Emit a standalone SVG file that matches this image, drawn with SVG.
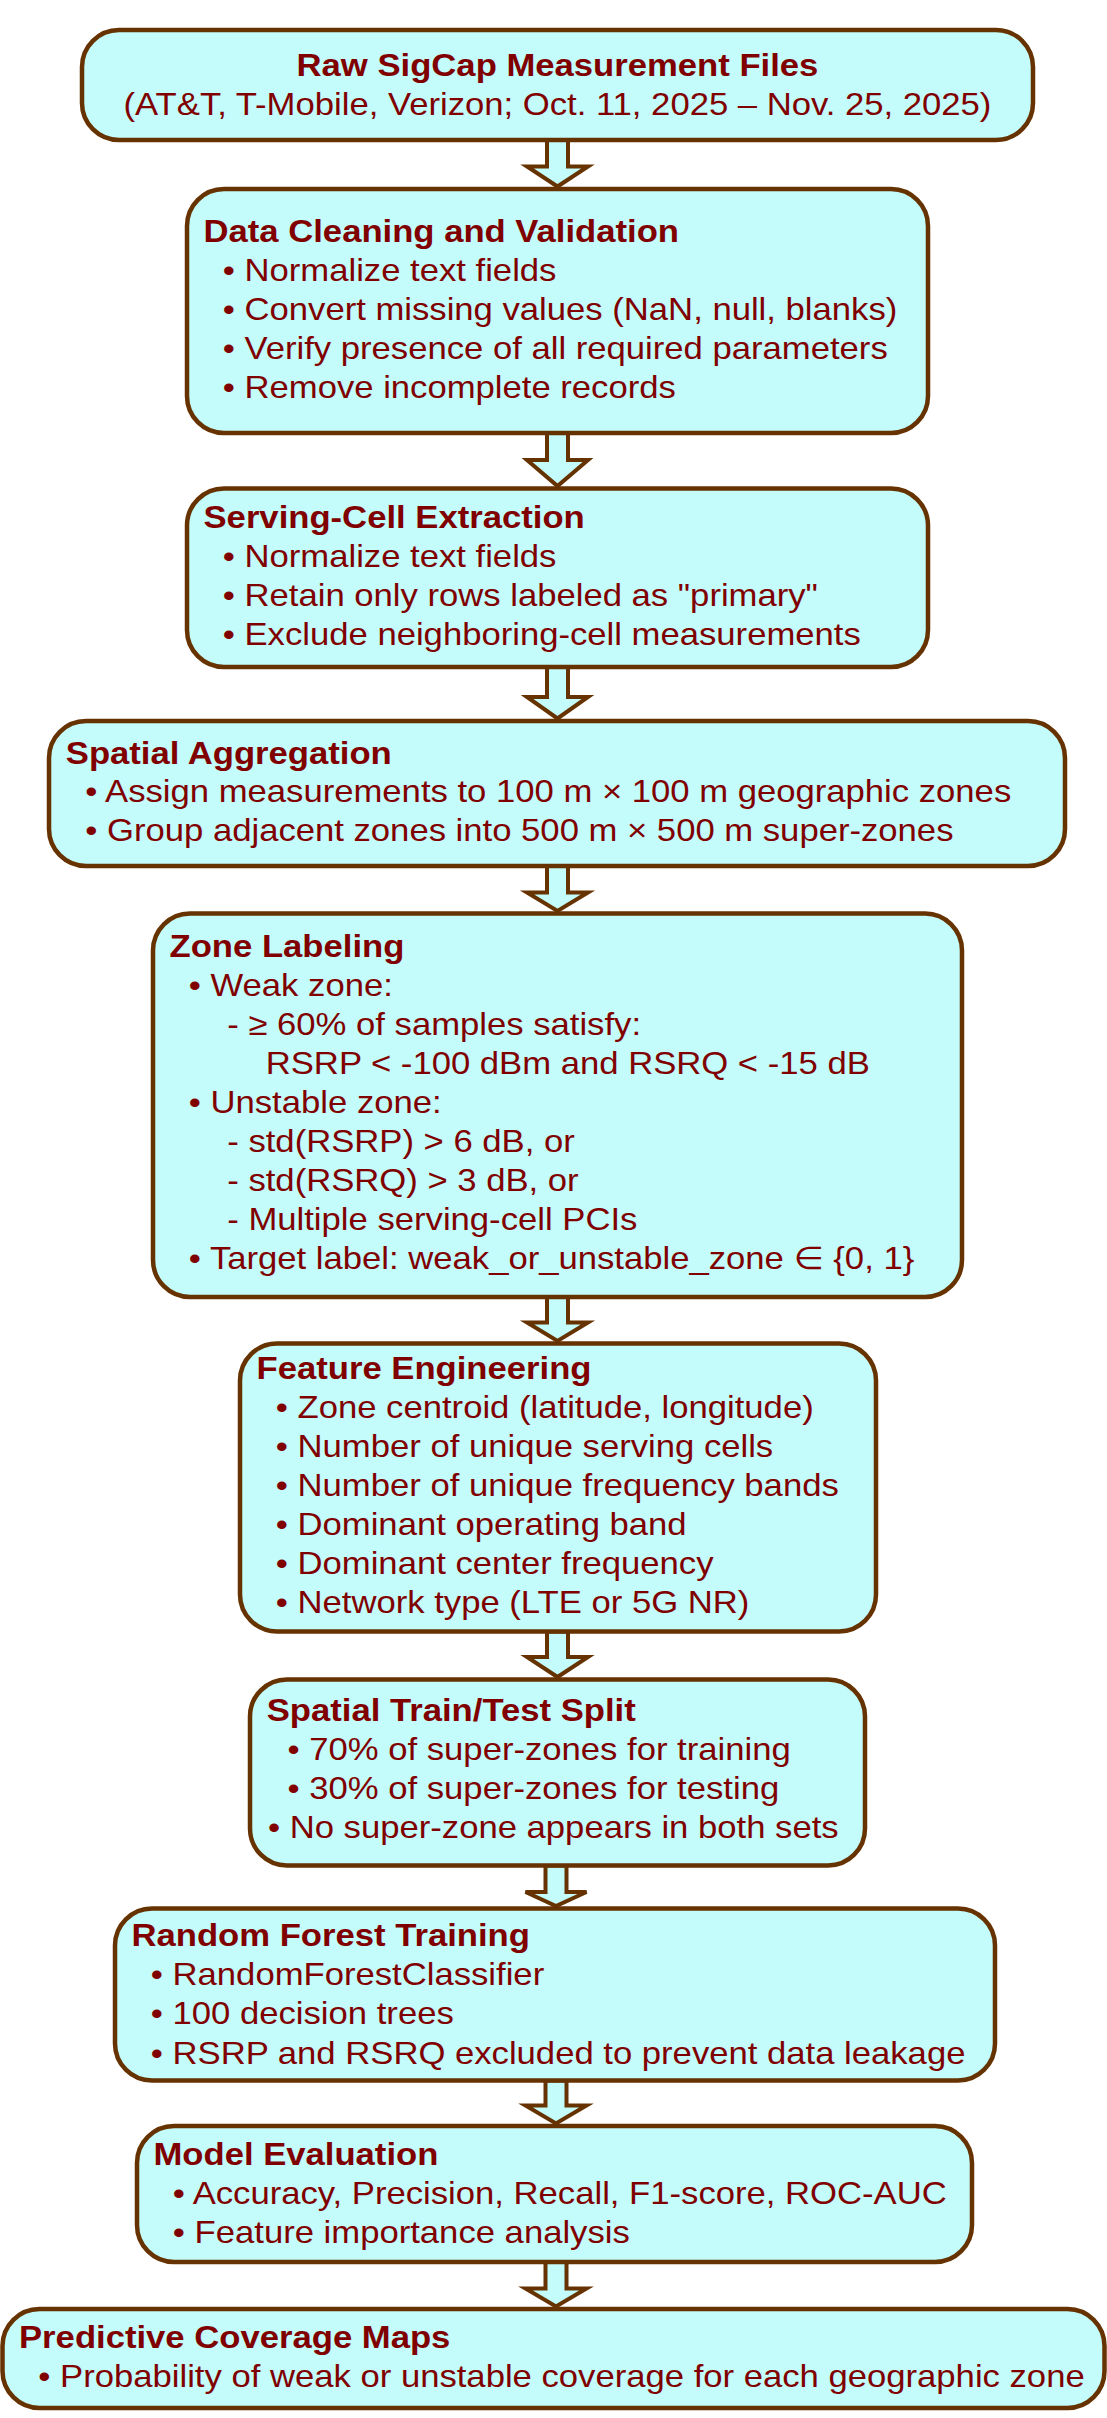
<svg xmlns="http://www.w3.org/2000/svg" width="1107" height="2418" viewBox="0 0 1107 2418">
<style>
.box{fill:#c3fcfa;stroke:#663300;stroke-width:4.5}
.arrow{fill:#c3fcfa;stroke:#663300;stroke-width:4;stroke-linejoin:miter}
text{font-family:"Liberation Sans",Arial,"DejaVu Sans",sans-serif;font-size:31.5px;fill:#800000}
.t{font-weight:bold}
.c{text-anchor:middle}
</style>
<rect width="1107" height="2418" fill="#ffffff"/>
<g id="connectors">
<path class="arrow" d="M547,140 V166.5 H527 L557.5,186.5 L588,166.5 H568 V140 Z"/>
<path class="arrow" d="M547,433 V460 H527 L557.5,486 L588,460 H568 V433 Z"/>
<path class="arrow" d="M547,667 V697 H527 L557.5,718.5 L588,697 H568 V667 Z"/>
<path class="arrow" d="M547,866 V892.5 H527 L557.5,911 L588,892.5 H568 V866 Z"/>
<path class="arrow" d="M547,1297 V1322.5 H527 L557.5,1341 L588,1322.5 H568 V1297 Z"/>
<path class="arrow" d="M547,1631.5 V1657 H527 L557.5,1677 L588,1657 H568 V1631.5 Z"/>
<path class="arrow" d="M545.5,1865.5 V1892 H525.5 L556,1906 L586.5,1892 H566.5 V1865.5 Z"/>
<path class="arrow" d="M545.5,2080.5 V2105.5 H525.5 L556,2123.5 L586.5,2105.5 H566.5 V2080.5 Z"/>
<path class="arrow" d="M545.5,2262 V2288.5 H525.5 L556,2306.5 L586.5,2288.5 H566.5 V2262 Z"/>
</g>
<g id="n1">
<rect class="box" x="82" y="30" width="951" height="110" rx="37"/>
<g transform="scale(1.1 1)">
<text class="t c" x="506.8" y="76">Raw SigCap Measurement Files</text>
<text class="c" x="506.8" y="115">(AT&amp;T, T-Mobile, Verizon; Oct. 11, 2025 – Nov. 25, 2025)</text>
</g>
</g>
<g id="n2">
<rect class="box" x="187" y="189" width="741" height="244" rx="37"/>
<g transform="scale(1.1 1)">
<text class="t" x="185" y="242.5">Data Cleaning and Validation</text>
<text x="202.5" y="281.5">• Normalize text fields</text>
<text x="202.5" y="320.5">• Convert missing values (NaN, null, blanks)</text>
<text x="202.5" y="359.5">• Verify presence of all required parameters</text>
<text x="202.5" y="398.5">• Remove incomplete records</text>
</g>
</g>
<g id="n3">
<rect class="box" x="187" y="488.5" width="741" height="178.5" rx="37"/>
<g transform="scale(1.1 1)">
<text class="t" x="185" y="528.3">Serving-Cell Extraction</text>
<text x="202.5" y="567.3">• Normalize text fields</text>
<text x="202.5" y="606.3">• Retain only rows labeled as "primary"</text>
<text x="202.5" y="645.3">• Exclude neighboring-cell measurements</text>
</g>
</g>
<g id="n4">
<rect class="box" x="49" y="721" width="1016" height="145" rx="37"/>
<g transform="scale(1.1 1)">
<text class="t" x="59.8" y="764">Spatial Aggregation</text>
<text x="77.5" y="802">• Assign measurements to 100 m × 100 m geographic zones</text>
<text x="77.5" y="841">• Group adjacent zones into 500 m × 500 m super-zones</text>
</g>
</g>
<g id="n5">
<rect class="box" x="153" y="913.5" width="809" height="383.5" rx="37"/>
<g transform="scale(1.1 1)">
<text class="t" x="154.1" y="957.3">Zone Labeling</text>
<text x="171.6" y="996">• Weak zone:</text>
<text x="206.6" y="1035">- ≥ 60% of samples satisfy:</text>
<text x="241.6" y="1074">RSRP &lt; -100 dBm and RSRQ &lt; -15 dB</text>
<text x="171.6" y="1113">• Unstable zone:</text>
<text x="206.6" y="1152">- std(RSRP) &gt; 6 dB, or</text>
<text x="206.6" y="1191">- std(RSRQ) &gt; 3 dB, or</text>
<text x="206.6" y="1230">- Multiple serving-cell PCIs</text>
<text x="171.6" y="1269.5">• Target label: weak_or_unstable_zone ∈ {0, 1}</text>
</g>
</g>
<g id="n6">
<rect class="box" x="240" y="1343.5" width="636" height="288" rx="37"/>
<g transform="scale(1.1 1)">
<text class="t" x="233.2" y="1379.5">Feature Engineering</text>
<text x="250.7" y="1418.5">• Zone centroid (latitude, longitude)</text>
<text x="250.7" y="1457.5">• Number of unique serving cells</text>
<text x="250.7" y="1496.5">• Number of unique frequency bands</text>
<text x="250.7" y="1535.5">• Dominant operating band</text>
<text x="250.7" y="1574.5">• Dominant center frequency</text>
<text x="250.7" y="1613.5">• Network type (LTE or 5G NR)</text>
</g>
</g>
<g id="n7">
<rect class="box" x="250" y="1679.5" width="615" height="186" rx="37"/>
<g transform="scale(1.1 1)">
<text class="t" x="242.5" y="1721.5">Spatial Train/Test Split</text>
<text x="261.4" y="1760">• 70% of super-zones for training</text>
<text x="261.4" y="1799">• 30% of super-zones for testing</text>
<text x="243.6" y="1838">• No super-zone appears in both sets</text>
</g>
</g>
<g id="n8">
<rect class="box" x="115" y="1908.5" width="880" height="172" rx="37"/>
<g transform="scale(1.1 1)">
<text class="t" x="119.5" y="1946">Random Forest Training</text>
<text x="137.1" y="1985">• RandomForestClassifier</text>
<text x="137.1" y="2024.5">• 100 decision trees</text>
<text x="137.1" y="2064">• RSRP and RSRQ excluded to prevent data leakage</text>
</g>
</g>
<g id="n9">
<rect class="box" x="137" y="2126" width="835" height="136" rx="37"/>
<g transform="scale(1.1 1)">
<text class="t" x="139.5" y="2165">Model Evaluation</text>
<text x="157.1" y="2204">• Accuracy, Precision, Recall, F1-score, ROC-AUC</text>
<text x="157.1" y="2243">• Feature importance analysis</text>
</g>
</g>
<g id="n10">
<rect class="box" x="2.5" y="2309" width="1102" height="99" rx="37"/>
<g transform="scale(1.1 1)">
<text class="t" x="17.3" y="2348.5">Predictive Coverage Maps</text>
<text x="34.8" y="2387">• Probability of weak or unstable coverage for each geographic zone</text>
</g>
</g>
</svg>
